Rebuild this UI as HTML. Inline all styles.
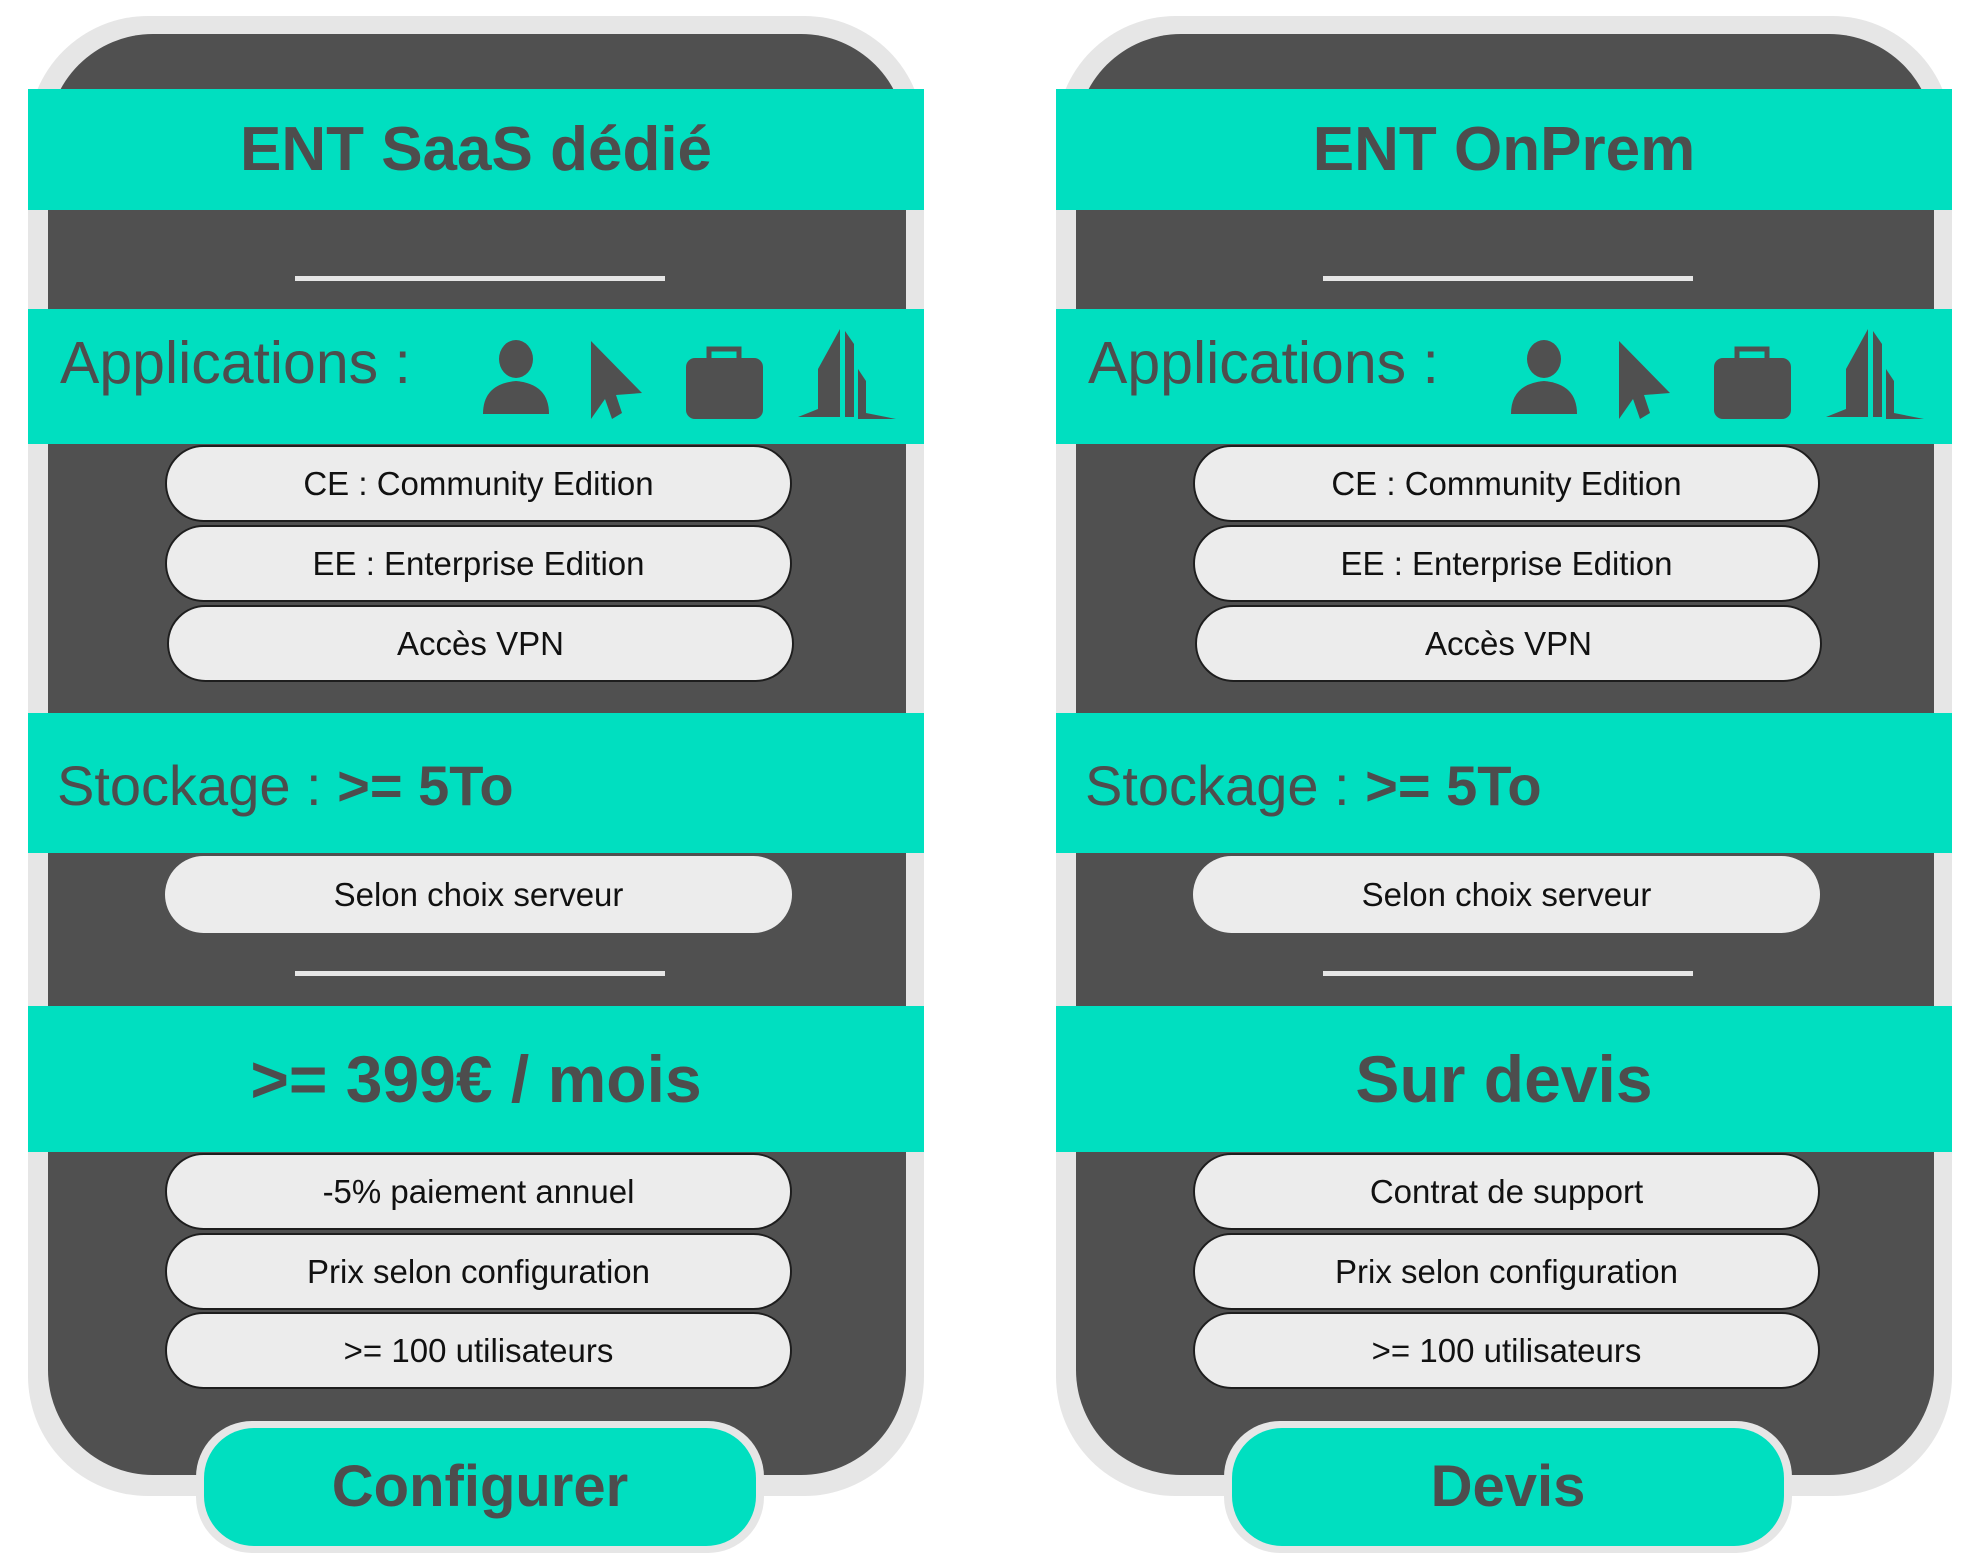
<!DOCTYPE html>
<html><head><meta charset="utf-8"><style>
body{margin:0;width:1983px;height:1560px;background:#fff;position:relative;overflow:hidden;font-family:"Liberation Sans",sans-serif;color:#4d4d4d}
.card{position:absolute;top:0;width:960px;height:1560px}
.frame{position:absolute;left:28px;top:16px;width:896px;height:1480px;background:#e6e6e6;border-radius:120px}
.dark{position:absolute;left:48px;top:34px;width:858px;height:1441px;background:#505050;border-radius:105px}
.band{position:absolute;left:28px;width:896px;background:#00dfc0}
.line{position:absolute;left:295px;width:370px;height:5px;background:#e6e6e6}
.pill{position:absolute;left:165px;width:623px;height:73px;background:#ececec;border:2px solid #1e1e1e;border-radius:40px;text-align:center;line-height:73px;font-size:33px;color:#111}
.big{position:absolute;text-align:center;width:100%;font-weight:bold}
.btn{position:absolute;left:196px;top:1421px;width:568px;height:132px;background:#e6e6e6;border-radius:56px}
.btn div{position:absolute;left:8px;top:7px;right:8px;bottom:7px;background:#00dfc0;border-radius:50px;text-align:center;line-height:118px;font-size:58px;font-weight:bold}
</style></head><body>

<div class="card" style="left:0">
<div class="frame"></div><div class="dark"></div>
<div class="band" style="top:89px;height:121px"><div class="big" style="font-size:62px;line-height:121px">ENT SaaS dédié</div></div>
<div class="line" style="top:276px"></div>
<div class="band" style="top:309px;height:135px"><div style="position:absolute;left:32px;top:20px;font-size:59px">Applications :</div>
<svg style="position:absolute;left:0;top:0" width="901" height="135" viewBox="0 0 901 135">
<g fill="#505050">
<ellipse cx="488" cy="50" rx="17" ry="19"/><path d="M455 105 Q455 75 488 72 Q521 75 521 105 Z"/>
<path d="M563 32 L563 110 L577 90 L584 110 L594 104 L588 86 L614 84 Z"/>
<rect x="658" y="49" width="77" height="61" rx="9"/><rect x="681" y="40" width="30" height="14" fill="none" stroke="#505050" stroke-width="5"/>
<path d="M770 108 L790 100 L790 60 L812 20 L812 108 Z"/><path d="M817 12 L817 108 L826 108 L826 35 L817 22 Z"/><path d="M830 60 L838 72 L838 104 L868 110 L830 110 Z"/>
</g></svg></div>
<div class="pill" style="top:445px">CE : Community Edition</div>
<div class="pill" style="top:525px">EE : Enterprise Edition</div>
<div class="pill" style="top:605px;left:167px">Accès VPN</div>
<div class="band" style="top:713px;height:140px"><div style="position:absolute;left:29px;top:40px;font-size:56px">Stockage : <b>&gt;= 5To</b></div></div>
<div class="pill" style="top:856px;border-color:#ececec">Selon choix serveur</div>
<div class="line" style="top:971px"></div>
<div class="band" style="top:1006px;height:146px"><div class="big" style="font-size:66px;line-height:146px">&gt;= 399€ / mois</div></div>
<div class="pill" style="top:1153px">-5% paiement annuel</div>
<div class="pill" style="top:1233px">Prix selon configuration</div>
<div class="pill" style="top:1312px">&gt;= 100 utilisateurs</div>
<div class="btn"><div>Configurer</div></div>
</div>

<div class="card" style="left:1028px">
<div class="frame"></div><div class="dark"></div>
<div class="band" style="top:89px;height:121px"><div class="big" style="font-size:62px;line-height:121px">ENT OnPrem</div></div>
<div class="line" style="top:276px"></div>
<div class="band" style="top:309px;height:135px"><div style="position:absolute;left:32px;top:20px;font-size:59px">Applications :</div>
<svg style="position:absolute;left:0;top:0" width="901" height="135" viewBox="0 0 901 135">
<g fill="#505050">
<ellipse cx="488" cy="50" rx="17" ry="19"/><path d="M455 105 Q455 75 488 72 Q521 75 521 105 Z"/>
<path d="M563 32 L563 110 L577 90 L584 110 L594 104 L588 86 L614 84 Z"/>
<rect x="658" y="49" width="77" height="61" rx="9"/><rect x="681" y="40" width="30" height="14" fill="none" stroke="#505050" stroke-width="5"/>
<path d="M770 108 L790 100 L790 60 L812 20 L812 108 Z"/><path d="M817 12 L817 108 L826 108 L826 35 L817 22 Z"/><path d="M830 60 L838 72 L838 104 L868 110 L830 110 Z"/>
</g></svg></div>
<div class="pill" style="top:445px">CE : Community Edition</div>
<div class="pill" style="top:525px">EE : Enterprise Edition</div>
<div class="pill" style="top:605px;left:167px">Accès VPN</div>
<div class="band" style="top:713px;height:140px"><div style="position:absolute;left:29px;top:40px;font-size:56px">Stockage : <b>&gt;= 5To</b></div></div>
<div class="pill" style="top:856px;border-color:#ececec">Selon choix serveur</div>
<div class="line" style="top:971px"></div>
<div class="band" style="top:1006px;height:146px"><div class="big" style="font-size:66px;line-height:146px">Sur devis</div></div>
<div class="pill" style="top:1153px">Contrat de support</div>
<div class="pill" style="top:1233px">Prix selon configuration</div>
<div class="pill" style="top:1312px">&gt;= 100 utilisateurs</div>
<div class="btn"><div>Devis</div></div>
</div>

</body></html>
